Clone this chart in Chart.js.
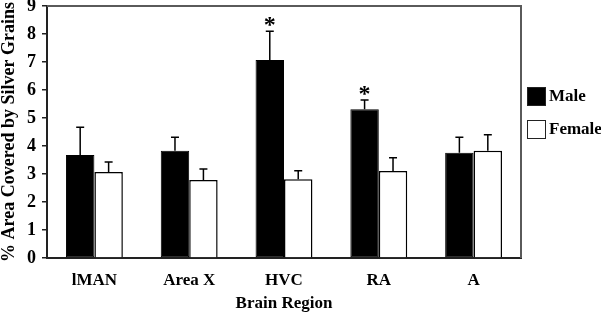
<!DOCTYPE html>
<html>
<head>
<meta charset="utf-8">
<script src="https://cdn.jsdelivr.net/npm/chart.js@4.4.0/dist/chart.umd.min.js"></script>
<style>
  html, body { margin: 0; padding: 0; background: #fff; }
  #wrap { width: 601px; height: 317px; }
</style>
</head>
<body>
<div id="wrap"><canvas id="chart" width="601" height="317"></canvas></div>
<script>
const regions = ['lMAN', 'Area X', 'HVC', 'RA', 'A'];
const maleValues = [3.68, 3.83, 7.07, 5.31, 3.76];
const maleErrors = [0.99, 0.48, 1.03, 0.33, 0.55];
const femaleValues = [3.07, 2.79, 2.81, 3.11, 3.83];
const femaleErrors = [0.36, 0.39, 0.31, 0.47, 0.57];
const maleSignificant = [false, false, true, true, false];
const yTicks = [0, 1, 2, 3, 4, 5, 6, 7, 8, 9];

const serif = '"Liberation Serif", "Times New Roman", serif';

// Upward-only error bars, asterisks, plot frame and the side legend
const extrasPlugin = {
  id: 'extras',
  afterDatasetsDraw(chart) {
    const { ctx, chartArea } = chart;
    const y = chart.scales.y;
    const errs = [maleErrors, femaleErrors];
    ctx.save();

    // frame (top + right)
    ctx.strokeStyle = '#5a5a5a';
    ctx.lineWidth = 2;
    ctx.beginPath();
    ctx.moveTo(chartArea.left, chartArea.top);
    ctx.lineTo(chartArea.right, chartArea.top);
    ctx.lineTo(chartArea.right, chartArea.bottom);
    ctx.stroke();

    ctx.strokeStyle = '#000';
    ctx.lineWidth = 1.5;
    chart.data.datasets.forEach((ds, di) => {
      const meta = chart.getDatasetMeta(di);
      meta.data.forEach((bar, i) => {
        const top = y.getPixelForValue(ds.data[i] + errs[di][i]);
        ctx.beginPath();
        ctx.moveTo(bar.x, bar.y);
        ctx.lineTo(bar.x, top);
        ctx.moveTo(bar.x - 4, top);
        ctx.lineTo(bar.x + 4, top);
        ctx.stroke();
        if (di === 0 && maleSignificant[i]) {
          ctx.fillStyle = '#000';
          ctx.font = 'bold 24px ' + serif;
          ctx.textAlign = 'center';
          ctx.textBaseline = 'top';
          ctx.fillText('*', bar.x, top - 17);
        }
      });
    });

    // legend
    const lx = chartArea.right + 6;
    const items = [
      { label: 'Male', fill: '#000', y: 87 },
      { label: 'Female', fill: '#fff', y: 120 }
    ];
    ctx.font = 'bold 17px ' + serif;
    ctx.textAlign = 'left';
    ctx.textBaseline = 'middle';
    items.forEach(it => {
      ctx.fillStyle = it.fill;
      ctx.fillRect(lx, it.y, 19, 19);
      ctx.strokeStyle = '#222';
      ctx.lineWidth = 1;
      ctx.strokeRect(lx + 0.5, it.y + 0.5, 18, 18);
      ctx.fillStyle = '#000';
      ctx.fillText(it.label, lx + 22, it.y + 10);
    });
    ctx.restore();
  }
};

new Chart(document.getElementById('chart'), {
  type: 'bar',
  data: {
    labels: regions,
    datasets: [
      {
        label: 'Male',
        data: maleValues,
        backgroundColor: '#000',
        borderColor: '#000',
        borderWidth: 1,
        borderSkipped: false,
        categoryPercentage: 0.6,
        barPercentage: 1.0
      },
      {
        label: 'Female',
        data: femaleValues,
        backgroundColor: '#fff',
        borderColor: '#000',
        borderWidth: 1.5,
        borderSkipped: 'bottom',
        categoryPercentage: 0.6,
        barPercentage: 1.0
      }
    ]
  },
  options: {
    responsive: false,
    animation: false,
    layout: { padding: { top: 6, right: 80, left: 0, bottom: 0 } },
    scales: {
      x: {
        afterFit(scale) {
          scale.height = 59;
          scale.paddingLeft = 0;
          scale.paddingRight = 0;
        },
        grid: { display: false, drawTicks: false },
        border: { color: '#222', width: 2 },
        ticks: { color: '#000', padding: 12, font: { family: serif, size: 17, weight: 'bold' } },
        title: {
          display: true,
          text: 'Brain Region',
          color: '#000',
          padding: { top: 0, bottom: 3 },
          font: { family: serif, size: 17, weight: 'bold' }
        }
      },
      y: {
        min: 0,
        max: 9,
        afterFit(scale) {
          scale.width = 47;
          scale.paddingTop = 0;
          scale.paddingBottom = 0;
        },
        afterBuildTicks(scale) { scale.ticks = yTicks.map(v => ({ value: v })); },
        grid: { drawOnChartArea: false, drawTicks: true, tickLength: 5, color: '#222', lineWidth: 1.5 },
        border: { color: '#222', width: 2 },
        ticks: { color: '#000', padding: 6, font: { family: serif, size: 18, weight: 'bold' } },
        title: {
          display: true,
          text: '% Area Covered by Silver Grains',
          color: '#000',
          padding: 0,
          font: { family: serif, size: 18, weight: 'bold', lineHeight: 1 }
        }
      }
    },
    plugins: {
      legend: { display: false },
      tooltip: { enabled: false }
    }
  },
  plugins: [extrasPlugin]
});
</script>
</body>
</html>
